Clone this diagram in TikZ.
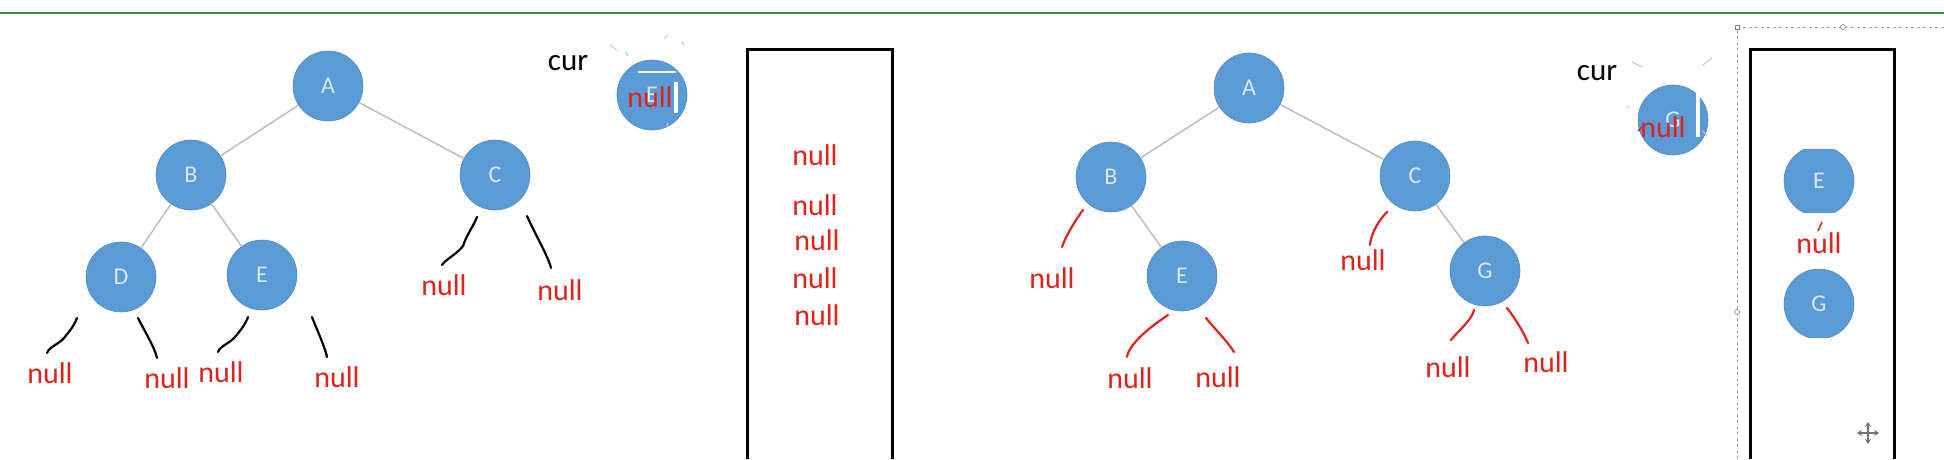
\documentclass[tikz,border=0pt]{standalone}
\usepackage{fontspec}
\setmainfont{Carlito}
\usetikzlibrary{arrows.meta}
\definecolor{nodeblue}{RGB}{91,155,213}
\definecolor{nodeedge}{RGB}{78,138,198}
\definecolor{lettercol}{RGB}{218,231,245}
\definecolor{nullred}{RGB}{220,36,30}
\definecolor{edgegray}{RGB}{190,190,190}
\definecolor{topgreen}{RGB}{46,150,60}
\begin{document}
\begin{tikzpicture}[x=1pt,y=-1pt,
 tnode/.style={circle, fill=nodeblue, draw=nodeedge, line width=0.6pt, minimum size=70pt, inner sep=0pt, text=lettercol, font=\fontsize{24}{28}\selectfont},
 nulltxt/.style={text=nullred, inner sep=0pt, font=\fontsize{30}{36}\selectfont},
 curtxt/.style={text=black, inner sep=0pt, font=\fontsize{31}{36}\selectfont},
 tedge/.style={draw=edgegray, line width=1.5pt},
 handblack/.style={draw=black, line width=2.2pt, line cap=round, line join=round},
 handred/.style={draw=nullred, line width=2.2pt, line cap=round, line join=round},
 stackbox/.style={draw=black, line width=3pt},
 selbox/.style={draw=gray!70, line width=0.8pt, dash pattern=on 3pt off 3pt},
 handlebox/.style={draw=gray, fill=white, line width=0.6pt, inner sep=0pt, minimum size=5pt},
 artefact/.style={draw=gray!45, line width=1pt, line cap=round},
]
\useasboundingbox (0,0) rectangle (1944,459);
\fill[white] (0,0) rectangle (1944,459);
\draw[topgreen, line width=2.8pt] (0,13) -- (1944,13);

% ---------- left tree ----------
\node[tnode] (A1) at (328,86) {A};
\node[tnode] (B1) at (191,175) {B};
\node[tnode] (C1) at (495,175) {C};
\node[tnode] (D1) at (121,277) {D};
\node[tnode] (E1) at (262,275) {E};
\draw[tedge] (A1) -- (B1);
\draw[tedge] (A1) -- (C1);
\draw[tedge] (B1) -- (D1);
\draw[tedge] (B1) -- (E1);

\node[nulltxt] (nD1l) at (50,373) {null};
\node[nulltxt] (nD1r) at (167,378) {null};
\node[nulltxt] (nE1l) at (221,372) {null};
\node[nulltxt] (nE1r) at (337,377) {null};
\node[nulltxt] (nC1l) at (444,285) {null};
\node[nulltxt] (nC1r) at (560,290) {null};

\coordinate (pD1la) at (77,318);  \coordinate (pD1lm) at (64,338); \coordinate (pD1lb) at (47,353);
\coordinate (pD1ra) at (138,318); \coordinate (pD1rb) at (157,358);
\coordinate (pE1la) at (248,317); \coordinate (pE1lm) at (235,337); \coordinate (pE1lb) at (218,352);
\coordinate (pE1ra) at (312,317); \coordinate (pE1rb) at (327,357);
\coordinate (pC1la) at (477,217); \coordinate (pC1lm) at (463,246); \coordinate (pC1lb) at (442,265);
\coordinate (pC1ra) at (527,216); \coordinate (pC1rb) at (551,268);
\draw[handblack] (pD1la) .. controls +(-3,8) and +(5,-6) .. (pD1lm) .. controls +(-5,6) and +(2,-6) .. (pD1lb);
\draw[handblack] (pD1ra) .. controls +(6,12) and +(-2,-10) .. (pD1rb);
\draw[handblack] (pE1la) .. controls +(-3,8) and +(5,-6) .. (pE1lm) .. controls +(-5,6) and +(2,-6) .. (pE1lb);
\draw[handblack] (pE1ra) .. controls +(5,13) and +(-2,-10) .. (pE1rb);
\draw[handblack] (pC1la) .. controls +(-4,10) and +(3,-10) .. (pC1lm) .. controls +(-6,8) and +(4,-6) .. (pC1lb);
\draw[handblack] (pC1ra) .. controls +(8,18) and +(-3,-12) .. (pC1rb);

% cur (left)
\node[curtxt] (cur1) at (568,63) {cur};
\node[tnode] (cur1node) at (652,95) {E};
\fill[white] (638,71) rectangle (676,73);
\node[nulltxt] (cur1null) at (650,97) {null};
\fill[white] (674,82) rectangle (678,113);
\draw[artefact] (610,45) -- (617,50);
\draw[artefact] (625,52) -- (628,56);
\draw[artefact] (664,39) -- (668,35);
\draw[artefact] (682,42) -- (684,45);
\draw[artefact] (667,123) -- (668,127);

% stack (left)
\draw[stackbox] (747,459) -- (747,49) -- (892,49) -- (892,459);
\node[nulltxt] (s1) at (815,155) {null};
\node[nulltxt] (s2) at (815,205) {null};
\node[nulltxt] (s3) at (817,240) {null};
\node[nulltxt] (s4) at (815,278) {null};
\node[nulltxt] (s5) at (817,315) {null};

% ---------- right tree ----------
\node[tnode] (A2) at (1249,88) {A};
\node[tnode] (B2) at (1111,177) {B};
\node[tnode] (C2) at (1415,176) {C};
\node[tnode] (E2) at (1182,276) {E};
\node[tnode] (G2) at (1485,271) {G};
\draw[tedge] (A2) -- (B2);
\draw[tedge] (A2) -- (C2);
\draw[tedge] (B2) -- (E2);
\draw[tedge] (C2) -- (G2);

\node[nulltxt] (nB2l) at (1052,278) {null};
\node[nulltxt] (nE2l) at (1130,378) {null};
\node[nulltxt] (nE2r) at (1218,377) {null};
\node[nulltxt] (nC2l) at (1363,260) {null};
\node[nulltxt] (nG2l) at (1448,367) {null};
\node[nulltxt] (nG2r) at (1546,362) {null};

\coordinate (pB2la) at (1083,210); \coordinate (pB2lb) at (1062,247);
\coordinate (pE2la) at (1168,315); \coordinate (pE2lb) at (1127,357);
\coordinate (pE2ra) at (1206,318); \coordinate (pE2rb) at (1234,352);
\coordinate (pC2la) at (1387,212); \coordinate (pC2lb) at (1370,245);
\coordinate (pG2la) at (1474,310); \coordinate (pG2lb) at (1451,340);
\coordinate (pG2ra) at (1507,308); \coordinate (pG2rb) at (1528,343);
\draw[handred] (pB2la) .. controls +(-6,8) and +(4,-12) .. (pB2lb);
\draw[handred] (pE2la) .. controls +(-15,10) and +(2,-14) .. (pE2lb);
\draw[handred] (pE2ra) .. controls +(8,10) and +(-6,-10) .. (pE2rb);
\draw[handred] (pC2la) .. controls +(-8,8) and +(1,-12) .. (pC2lb);
\draw[handred] (pG2la) .. controls +(-2,10) and +(6,-8) .. (pG2lb);
\draw[handred] (pG2ra) .. controls +(8,10) and +(-4,-10) .. (pG2rb);

% cur (right)
\node[curtxt] (cur2) at (1597,73) {cur};
\node[tnode] (cur2node) at (1673,120) {G};
\node[nulltxt] (cur2null) at (1663,127) {null};
\fill[white] (1696,80) rectangle (1700,137);
\draw[artefact] (1632,62) -- (1642,67);
\draw[artefact] (1703,65) -- (1712,58);
\draw[artefact] (1703,131) -- (1707,136);
\draw[artefact] (1627,108) -- (1629,106);
\draw[nullred, line width=1.5pt] (1638,131) -- (1642,127);

% selection frame
\draw[selbox] (1737,459) -- (1737,27) -- (1944,27);
\node[handlebox, rectangle, minimum size=4pt] (h1) at (1737,27) {};
\node[handlebox, circle, minimum size=5pt] (h2) at (1843,27) {};
\node[handlebox, circle, minimum size=5pt] (h3) at (1737,312) {};

% stack (right)
\draw[stackbox] (1750,459) -- (1750,49) -- (1894,49) -- (1894,459);
\begin{scope}
\clip (1770,149) rectangle (1870,212);
\node[tnode] (stE) at (1819,181) {E};
\end{scope}
\begin{scope}
\clip (1770,269) rectangle (1870,337);
\node[tnode] (stG) at (1819,304) {G};
\end{scope}
\node[nulltxt] (stnull) at (1819,243) {null};
\draw[nullred, line width=1.5pt] (1818,231) -- (1822,222);

% move cursor
\coordinate (mv) at (1868,433);
\draw[gray!90!black, line width=1.3pt, {Stealth[length=5pt,width=6pt]}-{Stealth[length=5pt,width=6pt]}] ([xshift=-11pt]mv) -- ([xshift=11pt]mv);
\draw[gray!90!black, line width=1.3pt, {Stealth[length=5pt,width=6pt]}-{Stealth[length=5pt,width=6pt]}] ([yshift=-11pt]mv) -- ([yshift=11pt]mv);
\end{tikzpicture}
\end{document}
